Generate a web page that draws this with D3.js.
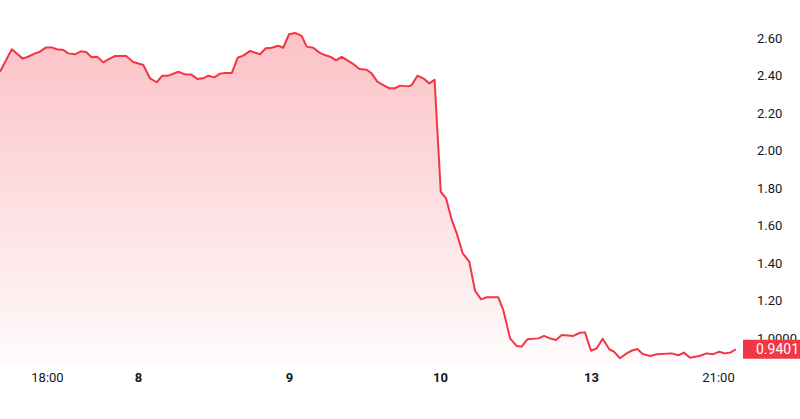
<!DOCTYPE html>
<html><head><meta charset="utf-8">
<script src="https://cdn.jsdelivr.net/npm/d3@7"></script>
<style>html,body{margin:0;padding:0;background:#fff;}svg{display:block;font-family:Roboto,"Noto Sans",sans-serif;}</style>
</head><body>
<script>
// time in trading-day units (8 → 1, 9 → 2, 10 → 3, 13 → 4)
const times = [0.086,0.164,0.236,0.272,0.318,0.351,0.391,0.428,0.462,0.506,0.538,0.583,0.621,0.656,0.693,0.730,0.770,0.803,0.848,0.921,0.969,1.035,1.079,1.124,1.161,1.201,1.267,1.311,1.351,1.395,1.432,1.466,1.505,1.543,1.576,1.621,1.660,1.697,1.742,1.808,1.846,1.885,1.929,1.962,2.000,2.040,2.084,2.117,2.161,2.201,2.238,2.276,2.311,2.349,2.382,2.426,2.466,2.515,2.548,2.585,2.625,2.664,2.702,2.735,2.790,2.813,2.850,2.889,2.929,2.964,3.005,3.040,3.078,3.111,3.150,3.194,3.232,3.272,3.309,3.386,3.419,3.464,3.508,3.541,3.578,3.651,3.689,3.728,3.768,3.806,3.883,3.927,3.960,4.000,4.038,4.077,4.121,4.152,4.192,4.236,4.269,4.307,4.342,4.391,4.435,4.534,4.578,4.616,4.656,4.717,4.766,4.806,4.849,4.887,4.925,4.960];
const values = [2.420,2.540,2.490,2.500,2.518,2.527,2.550,2.550,2.540,2.536,2.518,2.513,2.529,2.525,2.497,2.500,2.470,2.486,2.504,2.504,2.472,2.456,2.385,2.364,2.399,2.399,2.420,2.406,2.406,2.381,2.385,2.399,2.390,2.410,2.413,2.413,2.495,2.506,2.531,2.513,2.545,2.548,2.559,2.548,2.620,2.627,2.611,2.554,2.548,2.522,2.509,2.499,2.481,2.499,2.483,2.461,2.435,2.431,2.410,2.367,2.349,2.332,2.332,2.346,2.342,2.349,2.399,2.385,2.358,2.377,1.780,1.745,1.629,1.558,1.452,1.407,1.252,1.206,1.217,1.217,1.149,0.998,0.957,0.954,0.993,0.998,1.011,0.998,0.989,1.016,1.011,1.028,1.030,0.932,0.945,0.996,0.940,0.927,0.892,0.918,0.932,0.941,0.915,0.904,0.913,0.918,0.908,0.922,0.895,0.904,0.918,0.913,0.927,0.918,0.923,0.940];
const xTickPos = [0.397,1,2,3,4,4.841];
const xTickLabels = ["18:00","8","9","10","13","21:00"];
const xTickBold = [false,true,true,true,true,false];
const yTicks = [1.0,1.2,1.4,1.6,1.8,2.0,2.2,2.4,2.6];
const yTickLabels = ["1.0000","1.20","1.40","1.60","1.80","2.00","2.20","2.40","2.60"];
const lastPrice = "0.9401";
const lastValue = 0.9401;

const W = 800, H = 419;
const plotRight = 745, plotBottom = 364;
const svg = d3.select("body").append("svg").attr("width", W).attr("height", H);

const x = d3.scaleLinear().domain([0.086, 0.086 + plotRight/151]).range([0, plotRight]);
const y = d3.scaleLinear().domain([1.0, 2.6]).range([338, 38]);

const data = times.map((t,i)=>({t, v: values[i]}));

const defs = svg.append("defs");
const grad = defs.append("linearGradient").attr("id","fillGrad")
  .attr("gradientUnits","userSpaceOnUse").attr("x1",0).attr("x2",0).attr("y1",y(2.6)).attr("y2",plotBottom);
grad.append("stop").attr("offset","0%").attr("stop-color","#f23645").attr("stop-opacity",0.30);
grad.append("stop").attr("offset","100%").attr("stop-color","#f23645").attr("stop-opacity",0.02);
defs.append("clipPath").attr("id","clip").append("rect").attr("x",0).attr("y",0).attr("width",plotRight).attr("height",plotBottom);

const g = svg.append("g").attr("clip-path","url(#clip)");
g.append("path").datum(data)
  .attr("fill","url(#fillGrad)")
  .attr("d", d3.area().x(d=>x(d.t)).y0(plotBottom).y1(d=>y(d.v)));
g.append("path").datum(data)
  .attr("fill","none").attr("stroke","#f23645").attr("stroke-width",2).attr("stroke-linejoin","round")
  .attr("d", d3.line().x(d=>x(d.t)).y(d=>y(d.v)));

// right axis
const yAxis = d3.axisRight(y).tickValues(yTicks).tickSize(0).tickPadding(0)
  .tickFormat((d,i)=>yTickLabels[i]);
const ya = svg.append("g").attr("transform","translate(757,0)").call(yAxis);
ya.select(".domain").remove();
ya.selectAll("text").attr("font-size",13).attr("fill","#131722").attr("font-family","Roboto, sans-serif");

// last price label
svg.append("rect").attr("x",743).attr("y",y(lastValue)-9.5).attr("width",57).attr("height",19).attr("fill","#f23645");
svg.append("text").attr("x",756).attr("y",y(lastValue)).attr("dy","0.35em")
  .attr("font-size",14).attr("fill","#ffffff").text(lastPrice);

// bottom axis
const xAxis = d3.axisBottom(x).tickValues(xTickPos).tickSize(0).tickPadding(0)
  .tickFormat((d,i)=>xTickLabels[i]);
const xa = svg.append("g").attr("transform","translate(0,373)").call(xAxis);
xa.select(".domain").remove();
xa.selectAll("text").attr("font-size",13).attr("fill","#131722").attr("font-family","Roboto, sans-serif")
  .attr("font-weight",(d,i)=>xTickBold[i]?"bold":"normal");
</script>
</body></html>
